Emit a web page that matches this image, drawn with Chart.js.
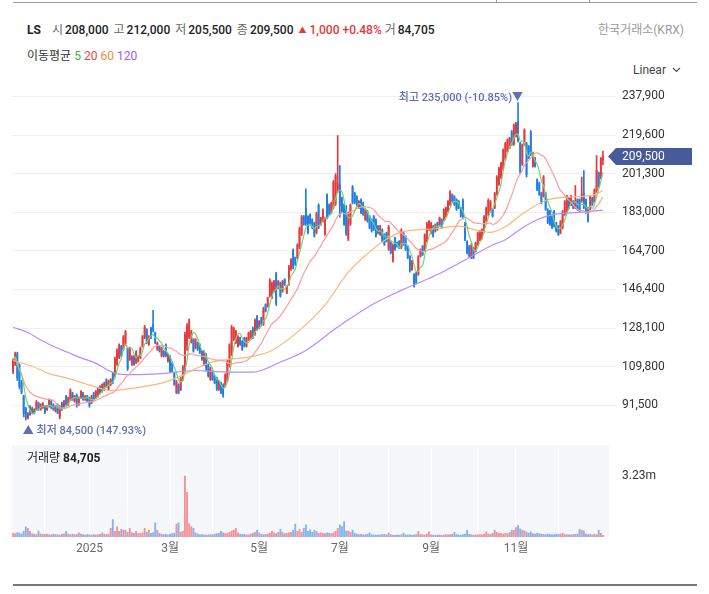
<!DOCTYPE html>
<html lang="ko">
<head>
<meta charset="utf-8">
<title>LS</title>
<script src="https://cdn.jsdelivr.net/npm/chart.js@4.4.1/dist/chart.umd.min.js"></script>
<style>
  html, body { margin: 0; padding: 0; }
  body { width: 709px; height: 594px; position: relative; overflow: hidden; background: #fff;
         font-family: Roboto, "Noto Sans CJK KR", sans-serif; color: #222; }
  .abs { position: absolute; white-space: nowrap; }
  #topline { left: 13px; top: 2px; width: 684px; height: 1px; background: #9a9a9a; }
  .tab { top: 0; width: 1px; height: 3px; background: #9a9a9a; }
  #quote { left: 27px; top: 22px; font-size: 12px; line-height: 17px; }
  #quote b { font-weight: 700; margin-right: 11px; }
  #quote .k { color: #666; margin-right: 2px; }
  #quote .v { font-weight: 500; margin-right: 5px; }
  #quote .up { color: #e4393c; font-weight: 500; }
  #quote .tri { font-size: 8px; vertical-align: 1px; margin-right: 3px; }
  #market { right: 25px; top: 22px; font-size: 12px; line-height: 17px; color: #999; }
  #ma { left: 27px; top: 48px; font-size: 12px; line-height: 17px; color: #333; }
  #ma span { margin-left: 3px; }
  #scale { left: 633px; top: 62px; font-size: 12px; line-height: 17px; color: #444; }
  #scale svg { margin-left: 6px; vertical-align: 1px; }
  #volLabel { left: 27px; top: 450px; font-size: 12px; line-height: 17px; }
  #volLabel b { font-weight: 700; }
  #bottomline { left: 13px; top: 584px; width: 684px; height: 2px; background: #777; }
  #priceChart { position: absolute; left: 0; top: 85px; }
  #volumeChart { position: absolute; left: 0; top: 445px; }
</style>
</head>
<body>
<canvas id="priceChart" width="709" height="357"></canvas>
<canvas id="volumeChart" width="709" height="125"></canvas>

<div id="topline" class="abs"></div>
<div class="abs tab" style="left:496px"></div>
<div class="abs tab" style="left:589px"></div>

<div id="quote" class="abs"><b>LS</b><span class="k">시</span><span class="v" id="qOpen"></span><span class="k">고</span><span class="v" id="qHigh"></span><span class="k">저</span><span class="v" id="qLow"></span><span class="k">종</span><span class="v" id="qClose"></span><span class="up"><span class="tri">▲</span><span id="qChange"></span></span> <span class="k">거</span><span class="v" id="qVol"></span></div>
<div id="market" class="abs">한국거래소(KRX)</div>
<div id="ma" class="abs">이동평균 <span style="color:#3bb33b;margin-left:0">5</span><span style="color:#f04545">20</span><span style="color:#f58b3c">60</span><span style="color:#9b5cf6">120</span></div>
<div id="scale" class="abs">Linear<svg width="9" height="6" viewBox="0 0 9 6"><polyline points="1,1 4.5,4.5 8,1" fill="none" stroke="#555" stroke-width="1.2"/></svg></div>
<div id="volLabel" class="abs">거래량 <b id="vVol"></b></div>
<div id="bottomline" class="abs"></div>

<script>
// daily prices in thousand won, Nov 2024 .. Jan 2026
const opens = [
  107.5,111.0,116.0,110.5,102.5,96.0,90.0,85.5,91.0,87.8,
  89.5,89.5,92.5,89.5,90.5,91.0,89.3,91.0,93.5,91.8,
  88.8,91.5,86.0,92.5,90.2,95.5,91.8,94.5,97.3,93.5,
  96.2,91.9,95.0,97.2,94.2,95.8,94.8,92.8,97.0,95.0,
  96.0,100.4,98.0,99.0,103.6,99.0,101.2,106.5,105.5,111.0,
  114.2,119.5,118.0,120.5,118.5,113.0,110.8,114.8,111.8,112.4,
  114.0,119.5,123.6,127.2,120.3,128.0,130.0,125.8,118.0,119.6,
  115.0,117.0,120.0,112.5,114.5,111.5,106.8,97.5,101.2,99.0,
  104.0,108.0,120.0,124.0,121.5,122.6,118.7,121.0,120.2,117.0,
  111.0,115.5,110.6,103.8,107.5,105.2,104.4,99.0,102.0,101.0,
  100.6,103.5,110.5,116.5,122.8,121.3,119.6,123.4,121.8,123.3,
  119.5,122.6,123.5,128.0,125.2,133.5,128.2,132.8,130.0,139.2,
  138.4,143.5,142.6,145.6,153.8,147.0,149.4,145.6,151.1,144.8,
  149.0,155.9,165.0,161.4,161.5,166.5,172.8,181.0,185.0,181.0,
  181.8,179.4,177.8,173.5,186.3,177.2,178.8,172.8,191.0,186.5,
  182.8,185.5,187.0,194.0,196.0,189.7,186.5,185.5,170.5,177.5,
  195.0,192.0,190.4,185.0,188.8,187.2,179.5,183.4,181.0,179.4,
  181.0,179.3,176.4,172.4,174.7,172.3,173.1,165.8,169.1,160.2,
  170.7,168.6,169.2,166.5,173.1,171.4,166.8,161.9,155.8,153.4,
  154.1,153.8,162.2,166.8,165.5,169.6,174.8,173.3,176.3,174.0,
  177.9,177.2,179.4,179.6,181.1,183.6,186.8,191.3,190.4,188.9,
  188.2,185.0,188.5,177.7,169.0,166.8,161.6,166.0,164.5,167.8,
  170.0,170.8,174.2,178.9,182.2,183.6,184.4,185.3,191.7,196.3,
  199.5,203.5,208.2,212.0,213.5,221.2,215.4,219.1,226.0,215.5,
  205.9,215.3,215.5,214.2,221.0,205.0,208.7,198.4,196.8,192.0,
  190.9,191.9,184.2,183.4,181.0,183.3,177.9,176.4,173.3,175.8,
  182.0,183.0,189.8,186.6,188.2,185.5,189.0,188.9,188.5,192.0,
  188.9,185.0,184.5,189.8,188.2,193.3,201.7,199.5,208.0
];
const highs = [
  113.6,116.7,116.7,111.2,103.3,96.2,90.6,88.0,91.4,90.6,
  89.9,93.8,93.0,92.2,92.8,91.4,91.4,94.6,93.8,92.2,
  91.4,92.2,91.4,93.0,93.8,96.2,95.4,99.3,97.7,96.2,
  96.9,95.5,98.5,97.7,96.2,96.2,95.4,96.2,97.7,98.5,
  100.1,100.9,101.7,102.5,104.1,103.3,104.1,107.2,114.4,118.3,
  120.7,119.9,124.6,127.0,119.0,119.1,115.1,115.1,117.5,115.1,
  119.1,124.6,129.4,127.8,124.6,128.6,136.5,126.2,121.5,120.0,
  119.1,117.5,120.7,116.0,115.1,112.0,107.2,103.3,101.7,104.9,
  110.4,126.2,130.2,132.5,127.0,123.1,123.1,121.5,120.7,117.5,
  117.5,116.0,111.2,109.6,108.0,105.7,104.9,103.3,102.5,101.7,
  106.5,112.8,120.7,129.4,128.6,127.0,124.6,123.8,122.2,123.8,
  123.8,126.2,127.0,128.6,132.5,134.1,131.7,133.3,138.0,139.6,
  142.8,151.5,149.9,150.7,154.6,150.7,149.9,150.7,151.5,148.3,
  157.8,161.0,165.7,161.8,168.1,176.0,181.5,181.5,194.1,181.5,
  182.3,179.9,178.3,183.1,187.0,180.7,184.7,180.7,191.7,187.0,
  187.8,198.1,201.3,219.4,205.2,190.2,187.0,186.2,183.1,187.0,
  195.7,192.5,190.9,188.6,189.4,187.8,184.7,183.9,181.5,179.9,
  181.5,179.9,176.8,176.8,175.2,172.8,173.6,176.8,169.6,168.1,
  171.2,168.9,169.6,175.2,173.6,172.0,167.3,162.5,160.2,153.9,
  154.6,162.5,165.7,167.3,172.8,178.3,179.1,178.3,176.8,177.5,
  178.3,180.7,179.9,184.7,185.5,188.6,193.3,191.7,190.9,189.4,
  188.6,185.5,189.4,178.3,169.6,167.3,168.1,166.5,168.9,173.6,
  174.4,175.2,181.5,185.5,189.4,188.6,184.8,192.5,200.4,204.4,
  206.8,213.1,216.2,217.8,218.6,221.8,224.9,225.7,235.0,216.2,
  215.4,222.6,216.2,214.7,221.8,211.5,209.1,198.9,197.3,192.5,
  200.4,192.5,184.7,183.9,181.5,183.9,178.3,176.8,179.1,183.9,
  188.6,191.0,190.2,191.0,188.6,195.7,189.4,189.4,199.7,202.8,
  189.4,185.5,191.0,190.2,194.1,209.9,202.1,209.0,212.0
];
const lows = [
  106.5,110.4,103.3,99.3,97.0,86.0,84.5,85.1,86.7,87.5,
  87.5,89.1,89.1,89.1,90.0,87.5,89.1,90.6,89.9,89.1,
  88.3,87.5,85.1,89.1,89.9,91.4,91.4,93.8,93.8,93.0,
  90.6,91.5,94.6,93.8,93.8,93.0,90.6,92.2,93.8,94.6,
  95.4,96.9,97.7,98.5,100.1,98.5,100.9,101.7,104.9,110.4,
  113.6,114.4,117.5,119.9,108.0,112.8,110.4,110.4,111.2,112.0,
  113.6,119.1,123.1,120.7,119.9,123.1,126.2,120.7,117.5,116.7,
  114.4,114.4,114.4,112.0,107.2,107.2,100.9,97.0,97.0,98.5,
  103.3,107.2,117.5,123.1,121.0,116.7,118.3,117.5,116.0,112.8,
  110.4,108.0,104.9,103.3,103.3,101.7,98.5,98.5,97.0,95.4,
  100.1,102.5,109.6,115.1,122.2,120.7,119.1,119.9,117.5,119.1,
  119.1,122.2,123.1,123.1,124.6,127.0,127.8,129.4,129.4,135.7,
  138.0,142.8,142.0,145.1,138.8,146.7,142.8,145.1,148.3,144.4,
  148.3,155.4,156.2,157.8,161.0,165.7,172.0,176.8,176.8,172.8,
  176.8,175.2,171.2,172.8,175.2,176.8,178.3,172.0,179.9,181.5,
  182.3,184.7,186.2,192.5,180.7,183.1,176.8,172.0,169.6,176.8,
  187.0,187.0,185.5,184.7,182.3,181.5,179.1,178.3,175.2,173.6,
  174.4,171.2,172.8,172.0,168.9,167.3,168.9,164.9,163.3,159.4,
  164.9,166.5,165.7,165.7,167.3,164.9,161.0,154.6,155.4,147.5,
  149.1,153.1,161.8,162.5,164.9,168.9,174.4,172.8,171.2,173.6,
  174.4,176.8,175.2,179.1,180.7,183.1,186.2,187.8,186.2,183.9,
  184.7,180.7,179.9,169.6,163.3,161.8,161.0,161.0,164.1,167.3,
  169.6,170.4,173.6,178.3,181.5,183.1,180.7,184.7,191.0,195.7,
  198.9,202.8,207.6,211.5,213.1,214.7,214.7,218.6,216.2,201.3,
  205.2,214.7,199.7,208.4,209.9,204.4,204.4,193.3,191.0,187.0,
  190.2,183.9,177.6,176.8,175.2,176.0,173.6,172.0,172.8,175.2,
  181.5,182.3,184.7,186.2,184.7,184.7,183.9,183.1,187.8,184.7,
  182.3,178.3,184.0,186.2,187.8,192.5,194.9,198.9,205.5
];
const closes = [
  112.8,115.8,104.5,100.5,97.8,87.5,85.5,87.5,87.2,90.0,
  88.0,93.0,89.8,91.8,92.3,88.2,91.0,94.0,90.5,89.6,
  91.0,88.0,90.8,89.6,93.3,92.0,95.0,98.5,94.3,95.8,
  91.5,95.0,98.0,94.3,95.8,93.5,91.5,95.8,94.5,98.0,
  99.6,97.5,101.2,102.0,100.6,102.8,103.8,102.3,113.5,117.5,
  120.0,115.0,124.0,126.3,109.0,118.5,114.6,111.0,116.8,114.7,
  118.5,124.0,128.5,121.5,124.0,123.8,127.0,121.3,121.0,117.2,
  118.5,114.9,115.0,115.5,108.0,107.8,101.5,102.6,97.6,104.2,
  109.6,125.0,129.0,131.5,126.5,117.3,122.6,118.0,116.5,113.3,
  116.8,108.8,105.5,109.0,103.8,102.2,99.2,102.8,97.6,96.2,
  106.0,112.0,120.0,128.5,128.0,126.5,124.0,120.4,118.0,119.6,
  123.3,125.8,126.5,123.8,131.8,127.7,131.3,129.9,137.3,136.2,
  142.3,150.8,149.2,150.2,140.0,150.3,143.5,150.2,148.8,147.9,
  157.0,160.5,157.0,158.3,167.5,175.2,180.7,177.3,177.8,173.6,
  177.4,175.8,172.0,182.3,176.0,180.2,184.0,180.0,180.8,182.0,
  187.2,197.3,200.3,196.5,186.0,183.7,177.5,173.0,182.0,186.3,
  187.8,187.6,186.0,188.2,183.0,182.1,184.2,178.9,175.8,174.2,
  175.0,172.0,173.3,176.3,169.5,167.9,169.4,176.0,163.9,167.3,
  165.5,166.9,166.2,174.4,167.9,165.5,161.6,155.3,159.8,148.2,
  149.7,161.8,165.3,163.0,172.2,177.6,178.7,177.8,171.8,177.1,
  174.9,180.3,175.7,184.2,185.1,188.1,192.7,188.3,186.7,184.5,
  185.2,181.3,180.6,170.3,163.9,162.3,167.5,161.6,168.4,173.0,
  174.0,174.8,180.8,184.9,188.7,188.0,181.2,191.8,199.7,203.8,
  206.2,212.4,215.5,217.3,218.1,215.3,224.2,225.2,217.0,202.3,
  214.7,222.0,200.8,209.0,210.8,211.0,204.9,193.9,191.6,187.6,
  199.7,184.6,178.2,177.4,175.8,176.7,174.1,172.5,178.6,183.3,
  188.0,190.3,185.2,190.6,185.1,188.5,184.4,183.7,191.5,185.5,
  182.9,178.9,190.5,186.7,193.6,203.0,195.5,208.5,209.5
];
// volume in thousand shares
const volumes = [
  200,180,230,210,160,300,540,460,300,180,
  150,130,320,160,150,140,160,120,110,150,
  130,120,100,140,170,300,160,130,150,120,
  140,220,150,120,110,130,120,100,130,110,
  120,140,220,150,130,160,460,920,300,540,
  300,410,360,360,250,460,230,200,300,180,
  200,220,460,250,360,200,230,750,360,200,
  150,130,140,120,150,180,200,680,750,260,
  300,3230,2370,700,540,460,220,160,120,130,
  120,100,110,130,120,150,180,200,300,220,
  180,200,250,320,360,460,220,150,130,140,
  120,110,150,200,250,360,220,150,130,140,
  160,200,300,220,180,250,410,250,180,200,
  220,250,360,680,300,410,250,460,650,300,
  380,250,360,300,200,220,200,180,220,200,
  180,220,300,460,650,550,810,320,320,250,
  360,200,150,130,140,120,130,150,220,130,
  110,100,120,110,130,140,120,220,130,100,
  90,110,100,120,200,110,100,120,90,110,
  130,300,140,120,110,150,270,120,100,90,
  100,110,90,100,120,110,130,150,250,130,
  110,100,120,150,360,140,120,100,110,120,
  130,120,150,270,160,140,200,360,250,200,
  180,160,200,180,250,360,360,500,600,430,
  360,320,270,200,270,180,150,200,170,150,
  140,130,150,140,120,130,150,140,160,200,
  130,120,110,120,130,140,160,410,360,320,
  160,130,150,110,150,120,360,200,84.705
];

// 60 and 120 day averages (day index, thousand won)
const ma60Days = [0,9,17,25,34,41,46,54,62,70,78,86,93,101,113,122,134,147,158,167,175,183,199,210,219,225,233,239,251,262,273,278];
const ma60Values = [112.8,110,106.5,104.5,101.7,99.5,98.5,99.3,100.5,102,105,108.8,111.8,113.2,114.7,117.5,126.2,139,154.6,163.3,169.6,173.6,175.2,176.4,174.4,173.5,176.8,181.5,188.6,190.2,191,193.3];
const ma120Days = [0,7,13,20,26,32,39,45,50,57,70,86,95,113,126,138,153,170,183,199,214,226,232,239,247,255,267,278];
const ma120Values = [128.5,126,122.5,119,116.5,114,111.5,108,106.3,106,106.5,108,107.5,107.2,112,117.5,128.6,139.6,146,153,161,167.5,170,175,179.5,182,183,184];

const priceTicks = [91.5, 109.8, 128.1, 146.4, 164.7, 183.0, 201.3, 219.6, 237.9];
const volumeTicks = [3230];
const monthDays = [36, 74, 116, 154, 197, 237];
const monthLabels = ['2025', '3월', '5월', '7월', '9월', '11월'];
const gridDays = [15, 36, 54, 74, 94, 116, 135, 154, 177, 197, 219, 237, 257];

const UP = '#e8383b';
const DOWN = '#1f7de6';
const VOL_UP = 'rgba(238, 80, 84, 0.6)';
const VOL_DOWN = 'rgba(50, 135, 235, 0.6)';
const MA_COLORS = ['#74d474', '#ff9c9c', '#ffb67a', '#b98bff'];

Chart.defaults.font.family = 'Roboto, "Noto Sans CJK KR", sans-serif';
Chart.defaults.font.size = 12;

const N = closes.length;
const days = closes.map((c, i) => i);
const isUp = closes.map((c, i) => c >= opens[i]);
const fmt = v => Math.round(v).toLocaleString('en-US');

function movingAverage(values, n) {
    return values.map((v, i) => {
        const from = Math.max(0, i - n + 1);
        let sum = 0;
        for (let k = from; k <= i; k++) sum += values[k];
        return sum / (i - from + 1);
    });
}

function sparse(xs, ys) {
    return xs.map((x, i) => ({ x: x, y: ys[i] }));
}

function maLine(label, data, color, smooth) {
    const ds = {
        type: 'line',
        label: label,
        data: data,
        borderColor: color,
        borderWidth: 1.2,
        pointRadius: 0,
        order: 0,
    };
    if (smooth) ds.cubicInterpolationMode = 'monotone';
    else ds.tension = 0.3;
    return ds;
}

// header text
const last = N - 1;
const change = closes[last] - closes[last - 1];
document.getElementById('qOpen').textContent = fmt(opens[last] * 1000);
document.getElementById('qHigh').textContent = fmt(highs[last] * 1000);
document.getElementById('qLow').textContent = fmt(lows[last] * 1000);
document.getElementById('qClose').textContent = fmt(closes[last] * 1000);
document.getElementById('qChange').textContent = fmt(change * 1000) + ' +' + (change / closes[last - 1] * 100).toFixed(2) + '%';
document.getElementById('qVol').textContent = fmt(volumes[last] * 1000);
document.getElementById('vVol').textContent = fmt(volumes[last] * 1000);

const priceMarks = {
    id: 'priceMarks',
    afterDatasetsDraw(chart) {
        const { ctx, scales: { x, y } } = chart;
        const top = Math.max(...highs);
        const bottom = Math.min(...lows);
        const iTop = highs.indexOf(top);
        const iBottom = lows.indexOf(bottom);
        ctx.save();
        ctx.font = '500 11px Roboto, "Noto Sans CJK KR", sans-serif';
        ctx.fillStyle = '#6070b3';
        ctx.textBaseline = 'middle';
        ctx.textAlign = 'right';
        const pTop = ((closes[last] - top) / top * 100).toFixed(2);
        ctx.fillText('최고 ' + fmt(top * 1000) + ' (' + pTop + '%)▼', x.getPixelForValue(iTop) + 5, y.getPixelForValue(top) - 4);
        ctx.textAlign = 'left';
        const pBottom = ((closes[last] - bottom) / bottom * 100).toFixed(2);
        ctx.fillText('▲ 최저 ' + fmt(bottom * 1000) + ' (' + pBottom + '%)', x.getPixelForValue(iBottom) - 3, y.getPixelForValue(bottom) + 11);
        ctx.restore();
    },
    afterDraw(chart) {
        const { ctx, chartArea, scales: { y } } = chart;
        const py = y.getPixelForValue(closes[last]);
        const left = chartArea.right + 4;
        ctx.save();
        ctx.fillStyle = '#475b9b';
        ctx.beginPath();
        ctx.moveTo(left, py);
        ctx.lineTo(left + 8, py - 8.5);
        ctx.lineTo(left + 84, py - 8.5);
        ctx.lineTo(left + 84, py + 8.5);
        ctx.lineTo(left + 8, py + 8.5);
        ctx.closePath();
        ctx.fill();
        ctx.fillStyle = '#ffffff';
        ctx.font = '12px Roboto, sans-serif';
        ctx.textBaseline = 'middle';
        ctx.textAlign = 'left';
        ctx.fillText(fmt(closes[last] * 1000), chartArea.right + 18, py + 0.5);
        ctx.restore();
    }
};

const panelBackground = {
    id: 'panelBackground',
    beforeDraw(chart) {
        const { ctx, chartArea } = chart;
        ctx.save();
        ctx.fillStyle = '#f6f7fb';
        ctx.fillRect(chartArea.left, 0, chartArea.right - chartArea.left + 5, chartArea.bottom);
        ctx.restore();
    }
};

const candleColors = isUp.map(u => u ? UP : DOWN);

new Chart(document.getElementById('priceChart'), {
    type: 'bar',
    data: {
        labels: days,
        datasets: [
            maLine('5', movingAverage(closes, 5), MA_COLORS[0], false),
            maLine('20', movingAverage(closes, 20), MA_COLORS[1], false),
            maLine('60', sparse(ma60Days, ma60Values), MA_COLORS[2], true),
            maLine('120', sparse(ma120Days, ma120Values), MA_COLORS[3], true),
            {
                label: 'body',
                data: opens.map((o, i) => [o, closes[i]]),
                backgroundColor: candleColors,
                barThickness: 1.2,
                grouped: false,
                order: 1,
            },
            {
                label: 'wick',
                data: lows.map((l, i) => [l, highs[i]]),
                backgroundColor: candleColors,
                barThickness: 1,
                grouped: false,
                order: 2,
            },
        ],
    },
    options: {
        responsive: false,
        animation: false,
        events: [],
        layout: { padding: { left: 12, right: 0, top: 0, bottom: 0 } },
        plugins: { legend: { display: false }, tooltip: { enabled: false } },
        scales: {
            x: { display: false, offset: true },
            y: {
                position: 'right',
                min: 74.1,
                max: 243.35,
                border: { display: false },
                grid: { color: '#efefef', tickLength: 12 },
                afterBuildTicks: s => { s.ticks = priceTicks.map(v => ({ value: v })); },
                afterFit: s => { s.width = 105; s.paddingTop = 0; s.paddingBottom = 0; },
                ticks: { color: '#333', padding: 6, callback: v => fmt(v * 1000) },
            },
        },
    },
    plugins: [priceMarks],
});

new Chart(document.getElementById('volumeChart'), {
    type: 'bar',
    data: {
        labels: days,
        datasets: [{
            data: volumes,
            backgroundColor: isUp.map(u => u ? VOL_UP : VOL_DOWN),
            barThickness: 1.2,
        }],
    },
    options: {
        responsive: false,
        animation: false,
        events: [],
        layout: { padding: { left: 12, top: 2 } },
        plugins: { legend: { display: false }, tooltip: { enabled: false } },
        scales: {
            x: {
                offset: true,
                border: { display: false },
                grid: {
                    offset: false,
                    drawTicks: false,
                    color: ctx => gridDays.includes(ctx.index) ? '#ffffff' : 'rgba(0,0,0,0)',
                },
                ticks: {
                    autoSkip: false,
                    maxRotation: 0,
                    padding: 5,
                    color: '#666',
                    callback: (v, i) => {
                        const k = monthDays.indexOf(i);
                        return k < 0 ? '' : monthLabels[k];
                    },
                },
                afterFit: s => { s.height = 33; },
            },
            y: {
                position: 'right',
                min: 0,
                max: 4765,
                border: { display: false },
                grid: { display: false, drawTicks: false },
                afterBuildTicks: s => { s.ticks = volumeTicks.map(v => ({ value: v })); },
                afterFit: s => { s.width = 105; s.paddingTop = 0; s.paddingBottom = 0; },
                ticks: { color: '#333', padding: 18, callback: v => (v / 1000).toFixed(2) + 'm' },
            },
        },
    },
    plugins: [panelBackground],
});
</script>
</body>
</html>
